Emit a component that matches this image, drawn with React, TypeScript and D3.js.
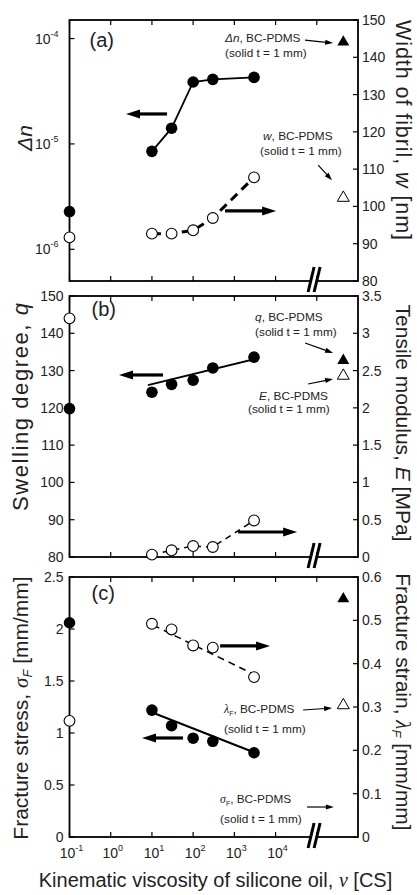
import React from 'react';
import * as d3 from 'd3';

// ---- data ----
const visc = [0.1, 10, 30, 100, 300, 3000]; // kinematic viscosity [cS]
const SOLID_X = 4.4e5; // position of the solid BC-PDMS reference beyond the axis break
const BREAK_X = 8.6e4;

const xTicks = [1e-1, 1e0, 1e1, 1e2, 1e3, 1e4, 1e5];
const xTickExp = ['-1', '0', '1', '2', '3', '4'];

// (a) birefringence and fibril width
const dnVals = [2.28e-6, 8.5e-6, 1.41e-5, 3.87e-5, 4.1e-5, 4.28e-5];
const wVals = [91.7, 92.7, 92.7, 93.6, 96.9, 107.8];
const dnSolid = 9.25e-5;
const wSolid = 102.3;
const dnTicks = [1e-6, 1e-5, 1e-4];
const dnTickExp = ['-6', '-5', '-4'];
const wTicks = [80, 90, 100, 110, 120, 130, 140, 150];

// (b) swelling degree and tensile modulus
const qVals = [119.8, 124.2, 126.3, 127.4, 130.7, 133.6];
const eVals = [3.2, 0.032, 0.09, 0.147, 0.134, 0.49];
const qSolid = 132.7;
const eSolid = 2.43;
const qFit: [number, number][] = [[8, 126.1], [3760, 133.3]];
const qTicks = [80, 90, 100, 110, 120, 130, 140, 150];
const eTicks = [0, 0.5, 1, 1.5, 2, 2.5, 3, 3.5];

// (c) fracture stress and strain
const sigVals = [2.06, 1.22, 1.07, 0.95, 0.92, 0.81];
const lamVals = [0.268, 0.492, 0.479, 0.442, 0.437, 0.369];
const sigSolid = 2.29;
const lamSolid = 0.304;
const sigFit: [number, number][] = [[10.6, 1.195], [3180, 0.81]];
const lamFit: [number, number][] = [[10.6, 0.489], [3180, 0.374]];
const sigTicks = [0, 0.5, 1, 1.5, 2, 2.5];
const lamTicks = [0, 0.1, 0.2, 0.3, 0.4, 0.5, 0.6];

// arrows & notes, in (viscosity, right-axis value) units of each panel
const arrowsA = [
  { x1: 23.3, y1: 124.8, x2: 2.35, y2: 124.8, thick: true },
  { x1: 594, y1: 98.8, x2: 1.03e4, y2: 98.8, thick: true },
  { x1: 5.2e4, y1: 144.6, x2: 2.49e5, y2: 143.8, thick: false },
  { x1: 1.08e5, y1: 111.1, x2: 2.35e5, y2: 107.0, thick: false },
];
const arrowsB = [
  { x1: 18.6, y1: 2.441, x2: 1.59, y2: 2.441, thick: true },
  { x1: 1230, y1: 0.335, x2: 3.33e4, y2: 0.335, thick: true },
  { x1: 5.2e4, y1: 2.87, x2: 2.49e5, y2: 2.736, thick: false },
  { x1: 6.15e4, y1: 2.32, x2: 2.49e5, y2: 2.387, thick: false },
];
const arrowsC = [
  { x1: 450, y1: 0.441, x2: 7350, y2: 0.441, thick: true },
  { x1: 56.9, y1: 0.2285, x2: 5.75, y2: 0.2285, thick: true },
  { x1: 4.66e4, y1: 0.2931, x2: 2.35e5, y2: 0.2977, thick: false },
  { x1: 5.8e4, y1: 0.0692, x2: 2.6e5, y2: 0.0692, thick: false },
];

const FONT = "'Liberation Sans', Arial, Helvetica, sans-serif";
const SERIF = "'Liberation Serif', 'Times New Roman', serif";
const X0 = 69.5;
const X1 = 358;
const panels = [
  { top: 20, bottom: 281 },
  { top: 296, bottom: 557 },
  { top: 577, bottom: 837 },
];

const x = d3.scaleLog().domain([0.1, 1e6]).range([X0, X1]);
const fmt = d3.format('~g');

function Arrow({ x1, y1, x2, y2, thick }: { x1: number; y1: number; x2: number; y2: number; thick: boolean }) {
  const len = Math.hypot(x2 - x1, y2 - y1);
  const ux = (x2 - x1) / len, uy = (y2 - y1) / len;
  const hl = thick ? 14 : 8;
  const hw = thick ? 4.5 : 2.6;
  const bx = x2 - ux * hl, by = y2 - uy * hl;
  const px = -uy, py = ux;
  return (
    <g>
      <line x1={x1} y1={y1} x2={bx + ux} y2={by + uy} stroke="#000" strokeWidth={thick ? 3.2 : 1.2} />
      <polygon points={`${x2},${y2} ${bx + px * hw},${by + py * hw} ${bx - px * hw},${by - py * hw}`} fill="#000" />
    </g>
  );
}

function Frame({ top, bottom }: { top: number; bottom: number }) {
  const bx = x(BREAK_X);
  return (
    <g>
      <rect x={X0} y={top} width={X1 - X0} height={bottom - top} fill="none" stroke="#000" strokeWidth={1.8} />
      {xTicks.map((t, i) => (
        <g key={i}>
          <line x1={x(t)} x2={x(t)} y1={top} y2={top + 5} stroke="#000" strokeWidth={1.2} />
          <line x1={x(t)} x2={x(t)} y1={bottom} y2={bottom - 5} stroke="#000" strokeWidth={1.2} />
        </g>
      ))}
      <rect x={bx - 3.5} y={bottom - 3} width={7} height={6} fill="#fff" />
      <line x1={bx - 6} y1={bottom + 11} x2={bx} y2={bottom - 14} stroke="#000" strokeWidth={3} />
      <line x1={bx} y1={bottom + 11} x2={bx + 6} y2={bottom - 14} stroke="#000" strokeWidth={3} />
    </g>
  );
}

function LinTicks({ ticks, scale, side }: { ticks: number[]; scale: d3.ScaleLinear<number, number>; side: 'L' | 'R' }) {
  const ax = side === 'L' ? X0 : X1;
  const dir = side === 'L' ? 1 : -1;
  return (
    <g fontFamily={FONT} fontSize={14} fill="#222">
      {ticks.map((t, i) => (
        <g key={i}>
          <line x1={ax} x2={ax + dir * 5} y1={scale(t)} y2={scale(t)} stroke="#000" strokeWidth={1.2} />
          <text x={side === 'L' ? ax - 6 : ax + 4} y={scale(t) + 5} textAnchor={side === 'L' ? 'end' : 'start'}>
            {fmt(t)}
          </text>
        </g>
      ))}
    </g>
  );
}

function OpenDot({ cx, cy }: { cx: number; cy: number }) {
  return <circle cx={cx} cy={cy} r={5.4} fill="#fff" stroke="#000" strokeWidth={1.1} />;
}
function FullDot({ cx, cy }: { cx: number; cy: number }) {
  return <circle cx={cx} cy={cy} r={5.8} fill="#000" />;
}
function Tri({ cx, cy, open }: { cx: number; cy: number; open?: boolean }) {
  const d = d3.symbol(d3.symbolTriangle, 62)() as string;
  return <path d={d} transform={`translate(${cx},${cy})`} fill={open ? '#fff' : '#000'} stroke="#000" strokeWidth={open ? 1 : 0} />;
}

function Note({ xv, yv, yv2, xv2, scale, head }: { xv: number; yv: number; yv2: number; xv2: number; scale: (v: number) => number; head: React.ReactNode }) {
  return (
    <g fontFamily={FONT} fontSize={11.8} fill="#222">
      <text x={x(xv)} y={scale(yv)}>{head}</text>
      <text x={x(xv2)} y={scale(yv2)}>(solid t = 1 mm)</text>
    </g>
  );
}

export default function App() {
  const [pa, pb, pc] = panels;
  // (a)
  const yDn = d3.scaleLog().domain([5e-7, 1.5e-4]).range([pa.bottom, pa.top]);
  const yW = d3.scaleLinear().domain([80, 150]).range([pa.bottom, pa.top]);
  // (b)
  const yQ = d3.scaleLinear().domain([80, 150]).range([pb.bottom, pb.top]);
  const yE = d3.scaleLinear().domain([0, 3.5]).range([pb.bottom, pb.top]);
  // (c)
  const ySig = d3.scaleLinear().domain([0, 2.5]).range([pc.bottom, pc.top]);
  const yLam = d3.scaleLinear().domain([0, 0.6]).range([pc.bottom, pc.top]);

  const lineOf = (ys: (v: number) => number) =>
    d3.line<[number, number]>().x(d => x(d[0])).y(d => ys(d[1]));
  const pairs = (vals: number[]) => visc.slice(1).map((v, i) => [v, vals[i + 1]] as [number, number]);

  const arrowsPx = (arr: typeof arrowsA, ys: (v: number) => number) =>
    arr.map((a, i) => <Arrow key={i} x1={x(a.x1)} y1={ys(a.y1)} x2={x(a.x2)} y2={ys(a.y2)} thick={a.thick} />);

  return (
    <svg width={417} height={895} style={{ position: 'absolute', left: 0, top: 0, background: '#fff' }}>
      <rect width={417} height={895} fill="#fff" />

      {/* ---------- (a) ---------- */}
      <Frame top={pa.top} bottom={pa.bottom} />
      <g fontFamily={FONT} fontSize={14} fill="#222">
        {dnTicks.map((t, i) => (
          <g key={i}>
            <line x1={X0} x2={X0 + 5} y1={yDn(t)} y2={yDn(t)} stroke="#000" strokeWidth={1.2} />
            <text x={X0 - 11} y={yDn(t) + 5} textAnchor="end">
              10<tspan fontSize={9} dy={-7}>{dnTickExp[i]}</tspan>
            </text>
          </g>
        ))}
      </g>
      <LinTicks ticks={wTicks} scale={yW} side="R" />
      <path d={lineOf(yDn)(pairs(dnVals)) as string} fill="none" stroke="#000" strokeWidth={1.8} />
      <path d={lineOf(yW)(pairs(wVals)) as string} fill="none" stroke="#000" strokeWidth={3} strokeDasharray="9 6" />
      {visc.map((v, i) => <FullDot key={'dn' + i} cx={x(v)} cy={yDn(dnVals[i])} />)}
      {visc.map((v, i) => <OpenDot key={'w' + i} cx={x(v)} cy={yW(wVals[i])} />)}
      <Tri cx={x(SOLID_X)} cy={yDn(dnSolid)} />
      <Tri cx={x(SOLID_X)} cy={yW(wSolid)} open />
      {arrowsPx(arrowsA, yW)}
      <Note xv={594} yv={144.1} xv2={594} yv2={140.1} scale={yW}
        head={<><tspan fontStyle="italic">Δn</tspan>, BC-PDMS</>} />
      <Note xv={4980} yv={117.8} xv2={4210} yv2={113.8} scale={yW}
        head={<><tspan fontStyle="italic">w</tspan>, BC-PDMS</>} />
      <text x={X0 + 20} y={pa.top + 27} fontFamily={FONT} fontSize={20} fill="#222">(a)</text>
      <text transform={`translate(32,138) rotate(-90)`} textAnchor="middle" fontFamily={FONT} fontSize={21} fontStyle="italic" fill="#222">Δn</text>
      <text transform={`translate(396,130) rotate(90)`} textAnchor="middle" fontFamily={FONT} fontSize={21.5} fill="#222"
        textLength={220} lengthAdjust="spacing">
        Width of fibril, <tspan fontStyle="italic">w</tspan> [nm]
      </text>

      {/* ---------- (b) ---------- */}
      <Frame top={pb.top} bottom={pb.bottom} />
      <LinTicks ticks={qTicks} scale={yQ} side="L" />
      <LinTicks ticks={eTicks} scale={yE} side="R" />
      <path d={lineOf(yQ)(qFit) as string} fill="none" stroke="#000" strokeWidth={2} />
      <path d={lineOf(yE)(pairs(eVals)) as string} fill="none" stroke="#000" strokeWidth={1.5} strokeDasharray="6 5" />
      {visc.map((v, i) => <FullDot key={'q' + i} cx={x(v)} cy={yQ(qVals[i])} />)}
      {visc.map((v, i) => <OpenDot key={'e' + i} cx={x(v)} cy={yE(eVals[i])} />)}
      <Tri cx={x(SOLID_X)} cy={yQ(qSolid)} />
      <Tri cx={x(SOLID_X)} cy={yE(eSolid)} open />
      {arrowsPx(arrowsB, yE)}
      <Note xv={3180} yv={3.165} xv2={3180} yv2={2.964} scale={yE}
        head={<><tspan fontStyle="italic">q</tspan>, BC-PDMS</>} />
      <Note xv={3980} yv={2.105} xv2={2150} yv2={1.931} scale={yE}
        head={<><tspan fontStyle="italic">E</tspan>, BC-PDMS</>} />
      <text x={X0 + 22} y={pb.top + 20} fontFamily={FONT} fontSize={20} fill="#222">(b)</text>
      <text transform={`translate(28,407) rotate(-90)`} textAnchor="middle" fontFamily={FONT} fontSize={22} fill="#222"
        textLength={208} lengthAdjust="spacing">
        Swelling degree, <tspan fontStyle="italic">q</tspan>
      </text>
      <text transform={`translate(396,423) rotate(90)`} textAnchor="middle" fontFamily={FONT} fontSize={21} fill="#222">
        Tensile modulus, <tspan fontStyle="italic">E</tspan> [MPa]
      </text>

      {/* ---------- (c) ---------- */}
      <Frame top={pc.top} bottom={pc.bottom} />
      <LinTicks ticks={sigTicks} scale={ySig} side="L" />
      <LinTicks ticks={lamTicks} scale={yLam} side="R" />
      <path d={lineOf(ySig)(sigFit) as string} fill="none" stroke="#000" strokeWidth={2} />
      <path d={lineOf(yLam)(lamFit) as string} fill="none" stroke="#000" strokeWidth={1.5} strokeDasharray="7 5" />
      {visc.map((v, i) => <FullDot key={'s' + i} cx={x(v)} cy={ySig(sigVals[i])} />)}
      {visc.map((v, i) => <OpenDot key={'l' + i} cx={x(v)} cy={yLam(lamVals[i])} />)}
      <Tri cx={x(SOLID_X)} cy={ySig(sigSolid)} />
      <Tri cx={x(SOLID_X)} cy={yLam(lamSolid)} open />
      {arrowsPx(arrowsC, yLam)}
      <Note xv={562} yv={0.2869} xv2={562} yv2={0.24} scale={yLam}
        head={<><tspan fontFamily={SERIF} fontStyle="italic">λ</tspan><tspan fontSize={7} dy={3}>F</tspan><tspan dy={-3}>, BC-PDMS</tspan></>} />
      <Note xv={450} yv={0.0785} xv2={450} yv2={0.0323} scale={yLam}
        head={<><tspan fontFamily={SERIF} fontStyle="italic">σ</tspan><tspan fontSize={7} dy={3}>F</tspan><tspan dy={-3}>, BC-PDMS</tspan></>} />
      <text x={X0 + 22} y={pc.top + 23} fontFamily={FONT} fontSize={20} fill="#222">(c)</text>
      <text transform={`translate(28,708) rotate(-90)`} textAnchor="middle" fontFamily={FONT} fontSize={21} fill="#222">
        Fracture stress, <tspan fontFamily={SERIF} fontStyle="italic">σ</tspan>
        <tspan fontSize={13} fontStyle="italic" dy={4}>F</tspan>
        <tspan dy={-4}> [mm/mm]</tspan>
      </text>
      <text transform={`translate(396,702) rotate(90)`} textAnchor="middle" fontFamily={FONT} fontSize={21} fill="#222">
        Fracture strain, <tspan fontFamily={SERIF} fontStyle="italic">λ</tspan>
        <tspan fontSize={13} fontStyle="italic" dy={4}>F</tspan>
        <tspan dy={-4}> [mm/mm]</tspan>
      </text>

      {/* x axis labels */}
      <g fontFamily={FONT} fontSize={14} fill="#222">
        {xTickExp.map((e, i) => (
          <text key={i} x={x(xTicks[i]) + 2} y={858} textAnchor="middle">
            10<tspan fontSize={9} dy={-7}>{e}</tspan>
          </text>
        ))}
      </g>
      <text x={215.5} y={887} textAnchor="middle" fontFamily={FONT} fontSize={20} fill="#222">
        Kinematic viscosity of silicone oil, <tspan fontFamily={SERIF} fontStyle="italic">ν</tspan> [CS]
      </text>
    </svg>
  );
}
